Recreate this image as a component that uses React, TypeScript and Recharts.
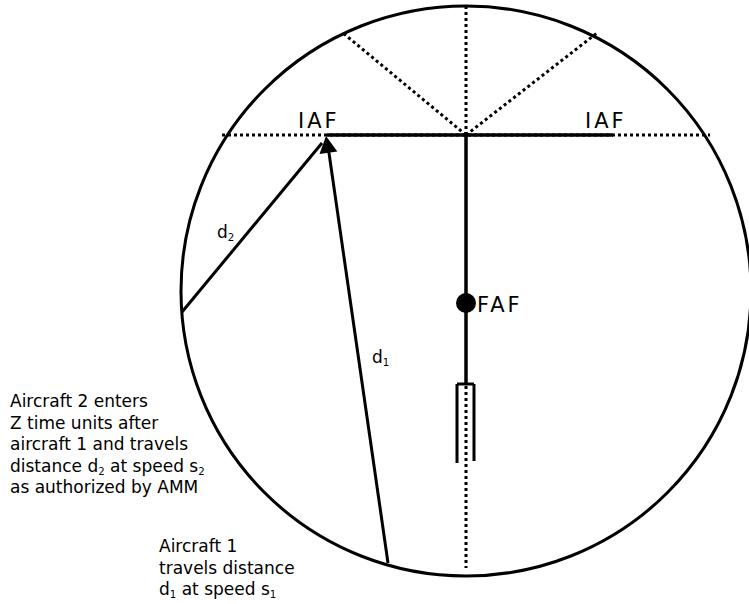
import { ComposedChart, XAxis, YAxis, ReferenceDot, ReferenceLine, Scatter } from "recharts";

// Diagram coordinates (data units == pixels, y grows downward)
const radar = { x: 466, y: 291, r: 285 };

const dottedSegments = [
  [[222, 135], [710, 135]],
  [[466, 135], [466, 5]],
  [[466, 135], [343, 33]],
  [[466, 135], [597, 33]],
  [[466, 386], [466, 568]],
];

const solidSegments = [
  [[327, 135], [613, 135]],
  [[466, 135], [466, 384]],
];

const runwaySides = [
  [[457, 384], [457, 463]],
  [[457, 384], [474, 384]],
  [[474, 384], [474, 461]],
];

const d1Path = [[388, 563], [328, 146]];
const d2Path = [[182, 312], [322, 143]];
const arrowTip = [{ x: 326, y: 136 }];
const fafPoint = [{ x: 466, y: 303 }];

const labels = [
  { x: 298, y: 128, lines: ["IAF"], big: true },
  { x: 585, y: 128, lines: ["IAF"], big: true },
  { x: 477, y: 312, lines: ["FAF"], big: true },
  { x: 217, y: 238, lines: ["d_2"] },
  { x: 372, y: 363, lines: ["d_1"] },
  {
    x: 10,
    y: 407,
    lines: ["Aircraft 2 enters", "Z time units after", "aircraft 1 and travels", "distance d_2 at speed s_2", "as authorized by AMM"],
  },
  { x: 159, y: 552, lines: ["Aircraft 1", "travels distance", "d_1 at speed s_1"] },
];

const FONT = "'DejaVu Sans', sans-serif";
const LINE_H = 21.5;

function richLine(line: string, fs: number) {
  const parts = line.split(/_(\d)/);
  const shift = fs * 0.2;
  return parts.map((p, i) =>
    i % 2 === 1 ? (
      <tspan key={i} fontSize={fs * 0.6} dy={shift}>
        {p}
      </tspan>
    ) : (
      <tspan key={i} dy={i === 0 ? 0 : -shift}>
        {p}
      </tspan>
    )
  );
}

function LabelShape(props: any) {
  const { cx, cy, payload } = props;
  const fs = payload.big ? 21 : 17;
  return (
    <g>
      {payload.lines.map((line: string, i: number) => (
        <text
          key={i}
          x={cx}
          y={cy + i * LINE_H}
          fontFamily={FONT}
          fontSize={fs}
          letterSpacing={payload.big ? 3 : 0}
          fill="#000"
        >
          {richLine(line, fs)}
        </text>
      ))}
    </g>
  );
}

function ArrowShape(props: any) {
  const { cx, cy } = props;
  // orient the head along the d1 track
  const dx = d1Path[1][0] - d1Path[0][0];
  const dy = d1Path[1][1] - d1Path[0][1];
  const len = Math.hypot(dx, dy);
  const ux = dx / len;
  const uy = dy / len;
  const L = 17;
  const hw = 9;
  const bx = cx - ux * L;
  const by = cy - uy * L;
  const pts = [
    [cx, cy],
    [bx - uy * hw, by + ux * hw],
    [bx + uy * hw, by - ux * hw],
  ];
  return <polygon points={pts.map((p) => p.join(",")).join(" ")} fill="#000" />;
}

function FafShape(props: any) {
  return <circle cx={props.cx} cy={props.cy} r={10} fill="#000" />;
}

const seg = (s: number[][]) => [
  { x: s[0][0], y: s[0][1] },
  { x: s[1][0], y: s[1][1] },
];

export default function App() {
  return (
    <div style={{ position: "absolute", left: 0, top: 0, width: 749, height: 604, background: "#fff" }}>
      <ComposedChart width={749} height={604} margin={{ top: 0, right: 0, bottom: 0, left: 0 }}>
        <XAxis type="number" dataKey="x" domain={[0, 749]} hide allowDataOverflow />
        <YAxis type="number" dataKey="y" domain={[0, 604]} reversed hide allowDataOverflow />
        <ReferenceDot x={radar.x} y={radar.y} r={radar.r} fill="none" stroke="#000" strokeWidth={3} />
        {dottedSegments.map((s, i) => (
          <ReferenceLine key={"dot" + i} segment={seg(s)} stroke="#000" strokeWidth={3} strokeDasharray="3 3" />
        ))}
        {solidSegments.map((s, i) => (
          <ReferenceLine key={"sol" + i} segment={seg(s)} stroke="#000" strokeWidth={3.5} />
        ))}
        {runwaySides.map((s, i) => (
          <ReferenceLine key={"rw" + i} segment={seg(s)} stroke="#000" strokeWidth={3} />
        ))}
        <ReferenceLine segment={seg(d1Path)} stroke="#000" strokeWidth={3} />
        <ReferenceLine segment={seg(d2Path)} stroke="#000" strokeWidth={3} />
        <Scatter data={arrowTip} shape={ArrowShape} isAnimationActive={false} />
        <Scatter data={fafPoint} shape={FafShape} isAnimationActive={false} />
        <Scatter data={labels} shape={LabelShape} isAnimationActive={false} />
      </ComposedChart>
    </div>
  );
}
